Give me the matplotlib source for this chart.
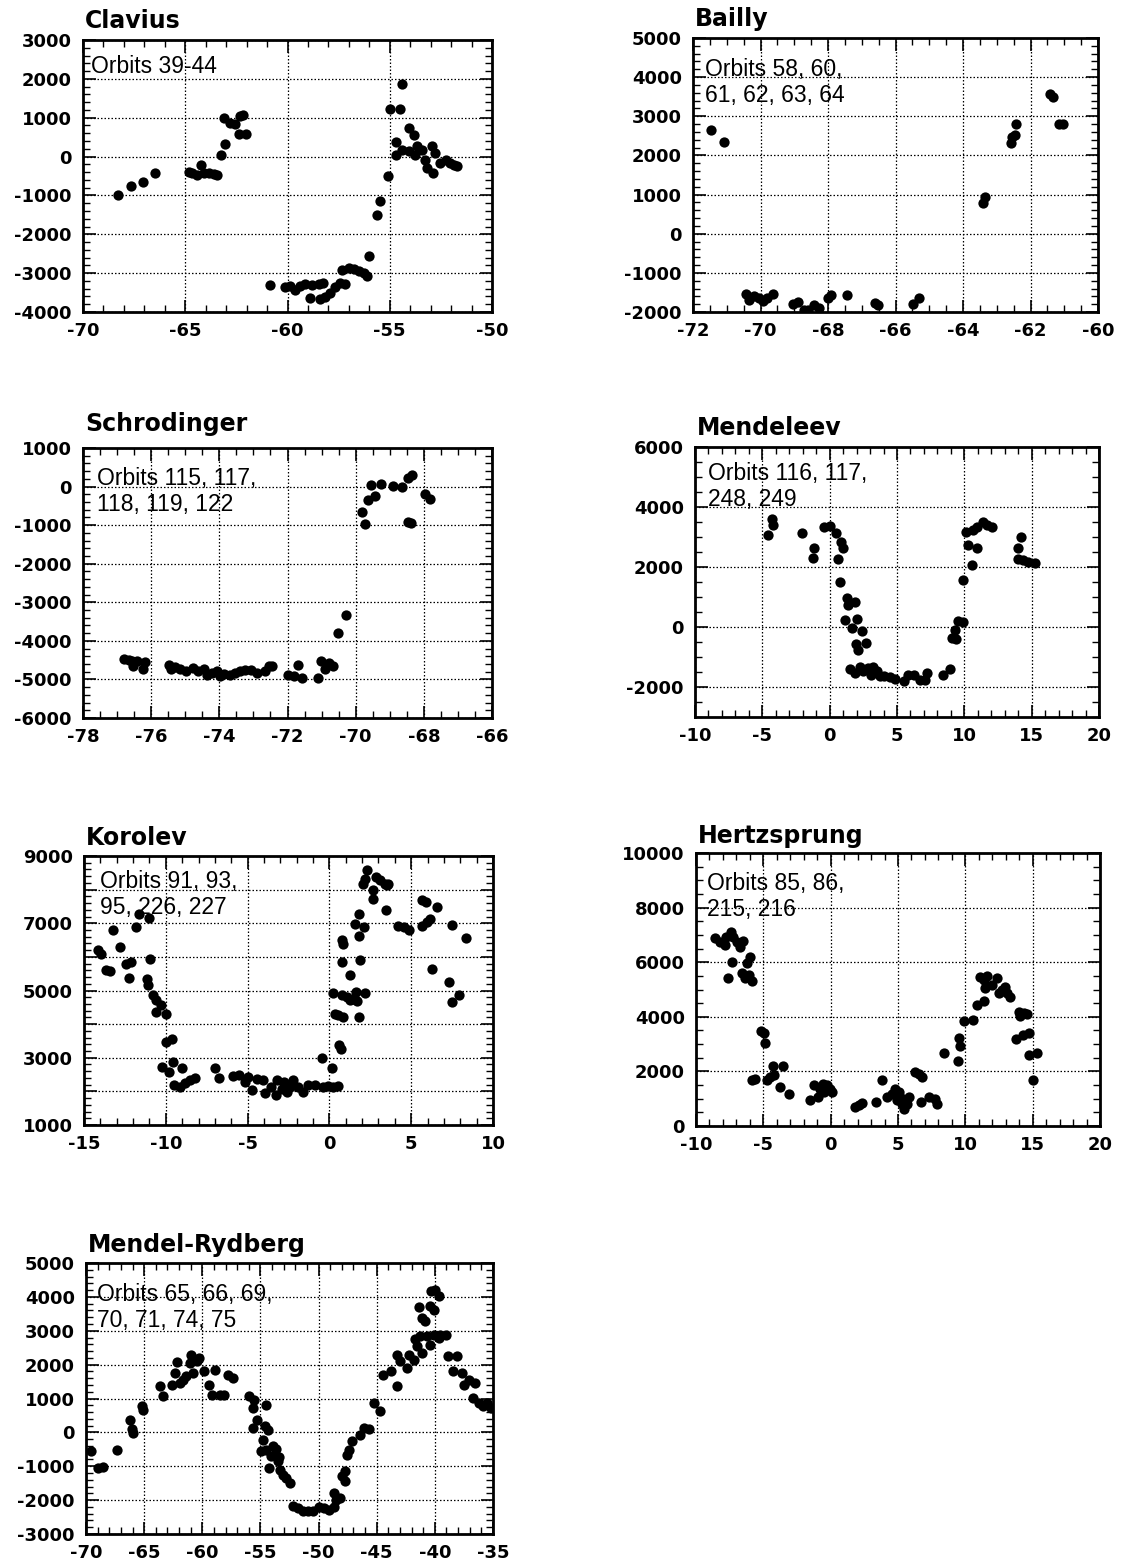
import matplotlib
matplotlib.use("Agg")
import matplotlib.pyplot as plt
from matplotlib.ticker import MultipleLocator, FixedLocator, FuncFormatter
import numpy as np

plt.rcParams['axes.unicode_minus'] = False

# ---------------- data ----------------
titles = ["Clavius", "Bailly", "Schrodinger", "Mendeleev", "Korolev", "Hertzsprung", "Mendel-Rydberg"]
orbit_labels = ["Orbits 39-44", "Orbits 58, 60,\n61, 62, 63, 64", "Orbits 115, 117,\n118, 119, 122",
                "Orbits 116, 117,\n248, 249", "Orbits 91, 93,\n95, 226, 227", "Orbits 85, 86,\n215, 216",
                "Orbits 65, 66, 69,\n70, 71, 74, 75"]

clavius_x = [-68.3, -67.64, -67.07, -66.5, -64.83, -64.67, -64.43, -64.24, -64.07, -63.86, -63.61, -63.45,
             -63.24, -63.04, -63.09, -62.8, -62.55, -62.3, -62.18, -62.39, -62.03,
             -60.84, -60.11, -59.86, -59.62, -59.37, -59.13, -58.8, -58.48, -58.26, -58.88, -58.43, -58.15,
             -57.9, -57.66, -57.42, -57.17, -57.33, -57.0, -56.76, -56.52, -56.28, -56.11, -56.03, -55.62,
             -55.49, -55.1, -55.0, -54.48, -54.4, -54.68, -54.68, -54.4, -54.07, -53.83, -54.07, -53.67,
             -53.75, -53.42, -53.26, -53.18, -52.89, -52.93, -52.77, -52.53, -52.23, -52.04, -51.87, -51.71]
clavius_y = [-1000, -750, -660, -420, -395, -420, -465, -225, -420, -420, -440, -480,
             50, 335, 1000, 870, 850, 1040, 1060, 590, 570,
             -3297, -3357, -3340, -3426, -3323, -3271, -3297, -3280, -3254, -3640, -3658, -3623,
             -3512, -3357, -3254, -3280, -2928, -2868, -2893, -2953, -2997, -3083, -2567, -1493,
             -1150, -505, 1213, 1213, 1857, 370, 52, 180, 740, 543, 137, 268,
             52, 180, -77, -290, -420, 268, 95, -160, -77, -160, -205, -248]

bailly_x = [-71.48, -71.09, -70.42, -70.35, -70.2, -70.04, -69.92, -69.8, -69.63, -69.04, -68.89, -68.72,
            -68.59, -68.42, -68.27, -68.0, -67.92, -67.43, -66.61, -66.51, -65.48, -65.31, -63.42, -63.35,
            -62.58, -62.55, -62.46, -62.42, -61.43, -61.33, -61.15, -61.03]
bailly_y = [2652, 2336, -1533, -1704, -1601, -1644, -1729, -1644, -1533, -1789, -1746, -1960,
            -1943, -1832, -1891, -1644, -1558, -1558, -1763, -1815, -1789, -1644, 773, 944,
            2327, 2481, 2524, 2797, 3574, 3488, 2806, 2806]

schrodinger_x = [-76.79, -76.66, -76.56, -76.53, -76.42, -76.25, -76.19, -75.49, -75.42, -75.29, -75.16,
                 -74.99, -74.77, -74.64, -74.46, -74.36, -74.22, -74.07, -73.97, -73.85, -73.68, -73.53,
                 -73.4, -73.24, -73.07, -72.9, -72.65, -72.55, -72.45, -71.99, -71.82, -71.69, -71.57,
                 -71.11, -71.03, -70.89, -70.79, -70.66, -70.52, -70.28, -69.81, -69.74, -69.64, -69.54,
                 -69.44, -69.25, -68.9, -68.64, -68.45, -68.35, -68.47, -68.38, -67.96, -67.81]
schrodinger_y = [-4471, -4488, -4531, -4644, -4531, -4730, -4557, -4618, -4730, -4687, -4730,
                 -4791, -4704, -4791, -4730, -4877, -4834, -4791, -4921, -4851, -4877, -4834,
                 -4791, -4748, -4765, -4834, -4791, -4661, -4644, -4877, -4921, -4618, -4964,
                 -4964, -4531, -4730, -4575, -4661, -3797, -3339, -668, -971, -340, 49,
                 -253, 66, 6, -20, 222, 309, -927, -945, -184, -322]

mendeleev_x = [-4.55, -4.26, -4.18, -2.03, -1.14, -1.21, -0.4, 0.02, 0.47, 0.59, 0.84, 1.01, 0.77, 1.26,
               1.39, 1.14, 1.88, 1.68, 2.05, 1.93, 2.13, 2.38, 2.67, 1.51, 1.88, 2.25, 2.5, 2.82, 3.04,
               3.24, 3.49, 3.74, 4.03, 4.48, 4.85, 5.52, 5.84, 6.29, 6.71, 7.08, 7.25, 8.44, 8.94, 9.06,
               9.31, 9.38, 9.55, 9.93, 9.93, 10.12, 10.3, 10.54, 10.67, 10.92, 10.97, 11.41, 11.66, 12.03,
               14.01, 14.18, 14.01, 14.38, 14.75, 15.25]
mendeleev_y = [3062, 3594, 3395, 3118, 2641, 2286, 3339, 3373, 3118, 2253, 2840, 2641, 1510, 956,
               734, 244, 823, -40, 277, -550, -780, -117, -540, -1406, -1517, -1317, -1483, -1373, -1595,
               -1317, -1483, -1627, -1627, -1650, -1739, -1816, -1595, -1595, -1761, -1761, -1539, -1595, -1406, -375,
               -90, -410, 215, 155, 1565, 3173, 2730, 2064, 3228, 2641, 3339, 3506, 3395, 3339,
               2619, 2984, 2253, 2231, 2175, 2120]

korolev_x = [-14.14, -13.94, -13.67, -13.43, -13.22, -12.78, -12.45, -12.1, -12.24, -11.8, -11.63, -11.02,
             -10.98, -11.14, -11.08, -10.78, -10.57, -10.27, -10.57, -9.96, -9.96, -9.65, -10.22, -9.8,
             -9.59, -9.49, -9.14, -8.98, -8.84, -8.53, -8.22, -7.0, -6.73, -5.88, -5.51, -5.16, -4.96,
             -4.76, -4.45, -4.08, -3.94, -3.59, -3.27, -3.22, -2.92, -2.78, -2.61, -2.41, -2.2, -1.9,
             -1.59, -1.29, -0.88, -0.47, -0.37, -0.06, 0.24, 0.55, 0.14, 0.24, 0.35, 0.55, 0.86, 0.61,
             0.69, 0.76, 0.76, 0.86, 0.76, 1.06, 1.27, 1.27, 1.47, 1.57, 1.63, 1.71, 1.78, 1.78, 1.84,
             1.78, 2.12, 2.18, 2.04, 2.18, 2.29, 2.65, 2.65, 2.86, 3.1, 3.41, 3.51, 3.61, 3.47, 4.22,
             4.53, 4.84, 5.65, 5.92, 5.65, 5.96, 6.16, 6.27, 6.57, 7.29, 7.49, 7.49, 7.9, 8.37]
korolev_y = [6198, 6099, 5624, 5584, 6812, 6297, 5782, 5851, 5376, 6891, 7267, 7168,
             5950, 5356, 5178, 4861, 4713, 4564, 4366, 4297, 3475, 3545, 2713, 2584,
             2881, 2188, 2139, 2683, 2238, 2337, 2386, 2683, 2386, 2465, 2485, 2287, 2436,
             2040, 2356, 2337, 1960, 2139, 1891, 2337, 2059, 2287, 1990, 2139, 2337, 2139,
             1990, 2188, 2188, 2980, 2139, 2158, 2139, 2158, 2683, 4911, 4297, 4267, 4218, 3376,
             3248, 5851, 6495, 6396, 4861, 4812, 4713, 5455, 4762, 6990, 4960, 4693, 6614, 7287, 5921,
             4198, 6891, 4931, 8178, 8327, 8574, 7980, 7733, 8376, 8277, 8178, 8129, 8178, 7406, 6921,
             6891, 6812, 7703, 7634, 6911, 7040, 7139, 5634, 7485, 5238, 6941, 4663, 4861, 6574]

hertzsprung_x = [-8.56, -8.19, -7.87, -7.75, -7.38, -7.28, -6.96, -6.76, -6.53, -7.62, -7.33, -6.58, -6.34,
                 -6.21, -5.97, -5.84, -6.09, -5.17, -4.98, -4.85, -5.84, -5.59, -4.73, -4.48, -4.18, -4.28,
                 -3.54, -3.79, -3.12, -1.51, -1.26, -0.94, -0.77, -0.57, -0.47, -0.27, -0.02, 0.1, 1.83,
                 2.08, 2.33, 3.39, 3.81, 4.18, 4.55, 4.8, 5.05, 4.93, 5.17, 5.3, 5.47, 5.67, 5.79, 6.29,
                 6.53, 6.78, 6.73, 7.28, 7.77, 7.9, 8.44, 9.43, 9.5, 9.63, 9.93, 10.57, 10.87, 11.36, 11.11,
                 11.36, 11.61, 11.49, 11.98, 12.35, 12.48, 12.72, 12.97, 13.09, 13.34, 13.96, 14.08, 14.33,
                 14.58, 13.79, 14.28, 14.7, 14.7, 15.02, 15.32]
hertzsprung_y = [6879, 6757, 6634, 6940, 7124, 6940, 6757, 6548, 6793, 5410, 6022, 5594, 5410,
                 5961, 6206, 5312, 5532, 3488, 3390, 3023, 1701, 1738, 1701, 1799, 1860, 2191,
                 2191, 1432, 1187, 942, 1493, 1065, 1371, 1555, 1248, 1493, 1371, 1248, 698,
                 759, 845, 881, 1677, 1065, 1187, 1371, 1248, 942, 1065, 820, 637, 820, 1065, 1983,
                 1922, 1799, 881, 1065, 1004, 820, 2656, 2387, 3207, 2925, 3855, 3880, 4431, 4590, 5471,
                 5349, 5496, 5043, 5165, 5410, 4859, 4982, 5104, 4859, 4737, 4186, 4027, 4125,
                 4100, 3170, 3329, 3390, 2595, 1701, 2656]

mendel_rydberg_x = [-69.6, -69.0, -68.57, -67.3, -66.21, -66.07, -65.93, -65.15, -65.12, -63.63, -63.34,
                    -62.63, -62.34, -62.14, -61.91, -61.62, -61.39, -61.05, -60.99, -60.76, -60.47, -60.25,
                    -59.84, -59.41, -59.13, -58.9, -58.47, -58.12, -57.75, -57.32, -55.94, -55.6, -55.54,
                    -54.54, -55.6, -55.26, -54.97, -54.74, -54.6, -54.31, -54.51, -54.11, -54.22, -53.94,
                    -53.65, -53.36, -53.53, -53.3, -53.07, -52.79, -52.44, -52.16, -51.73, -51.3, -50.87,
                    -50.44, -50.0, -49.57, -49.14, -48.71, -48.71, -48.49, -48.14, -48.0, -47.71, -47.77,
                    -47.57, -47.42, -47.14, -46.42, -46.13, -45.7, -45.21, -44.7, -44.5, -43.78, -43.26,
                    -43.26, -42.98, -42.4, -42.26, -41.83, -41.54, -41.69, -41.31, -41.11, -41.4, -41.11,
                    -40.82, -40.68, -40.39, -40.45, -40.1, -40.3, -39.97, -39.68, -40.1, -39.68, -39.54,
                    -39.03, -38.83, -38.1, -38.45, -37.67, -37.53, -37.1, -36.52, -36.72, -36.24, -35.86,
                    -35.52, -35.17]
mendel_rydberg_y = [-561, -1053, -1024, -512, 374, 98, -20, 768, 669, 1358, 1063,
                    1407, 1752, 2067, 1457, 1555, 1654, 2047, 2293, 1752, 2096, 2195,
                    1801, 1388, 1112, 1850, 1112, 1112, 1703, 1604, 1063, 719, 965,
                    797, 128, 374, -561, -217, 177, 79, -512, -709, -1053, -413,
                    -492, -728, -856, -1102, -1250, -1348, -1496, -2185, -2234, -2333, -2313,
                    -2333, -2205, -2234, -2303, -2205, -1791, -1988, -1939, -1299, -1152, -1447,
                    -659, -512, -266, -69, 128, 98, 866, 620, 1703, 1801, 1358,
                    2293, 2096, 1900, 2293, 2146, 2559, 2766, 2835, 2342, 3701, 3376,
                    3278, 2835, 2589, 3740, 3622, 4163, 4193, 4016, 2884, 2785, 2884,
                    2884, 2264, 2264, 1801, 1752, 1407, 1555, 1457, 1014, 866, 768,
                    866, 719]

xs = [clavius_x, bailly_x, schrodinger_x, mendeleev_x, korolev_x, hertzsprung_x, mendel_rydberg_x]
ys = [clavius_y, bailly_y, schrodinger_y, mendeleev_y, korolev_y, hertzsprung_y, mendel_rydberg_y]

# y tick positions (gridlines) and which of them carry labels
ytick_values = [list(range(-4000, 3001, 1000)), list(range(-2000, 5001, 1000)), list(range(-6000, 1001, 1000)),
                list(range(-2000, 6001, 2000)), list(range(1000, 9001, 1000)), list(range(0, 10001, 2000)),
                list(range(-3000, 5001, 1000))]
ytick_labeled = [list(range(-4000, 3001, 1000)), list(range(-2000, 5001, 1000)), list(range(-6000, 1001, 1000)),
                 list(range(-2000, 6001, 2000)), list(range(1000, 9001, 2000)), list(range(0, 10001, 2000)),
                 list(range(-3000, 5001, 1000))]

# ---------------- layout / axes config ----------------
W, H = 1129, 1564
boxes = [(83, 40, 492, 312), (693, 38, 1098, 312), (83, 448, 492, 718), (695, 447, 1099, 717),
         (84, 856, 493, 1125), (696, 853, 1100, 1126), (86, 1263, 493, 1534)]
xlims = [(-70, -50), (-72, -60), (-78, -66), (-10, 20), (-15, 10), (-10, 20), (-70, -35)]
ylims = [(-4000, 3000), (-2000, 5000), (-6000, 1000), (-3000, 6000), (1000, 9000), (0, 10000), (-3000, 5000)]
xmaj = [5, 2, 2, 5, 5, 5, 5]
xmin = [1, 0.5, 0.5, 1, 1, 1, 1]
ymin = [200, 200, 200, 500, 200, 500, 200]
title_off = [12, 12, 17, 12, 11, 10, 11]
text_off = [(8, 15), (12, 20), (14, 19), (13, 15), (16, 14), (11, 19), (11, 20)]

fig = plt.figure(figsize=(W / 100, H / 100), dpi=100)

for i in range(7):
    l, t, r, b = boxes[i]
    ax = fig.add_axes([l / W, 1 - b / H, (r - l) / W, (b - t) / H])
    ax.plot(xs[i], ys[i], 'o', color='black', markersize=7.4, markeredgewidth=0, zorder=3)
    ax.set_xlim(*xlims[i])
    ax.set_ylim(*ylims[i])
    ax.xaxis.set_major_locator(MultipleLocator(xmaj[i]))
    ax.xaxis.set_minor_locator(MultipleLocator(xmin[i]))
    ax.yaxis.set_major_locator(FixedLocator(ytick_values[i]))
    ax.yaxis.set_minor_locator(MultipleLocator(ymin[i]))
    labeled = set(ytick_labeled[i])
    ax.yaxis.set_major_formatter(FuncFormatter(
        lambda v, p, lab=labeled: f"{int(round(v))}" if int(round(v)) in lab else ""))
    ax.xaxis.set_major_formatter(FuncFormatter(lambda v, p: f"{int(round(v))}"))
    ax.grid(True, which='major', color='black', linestyle=(0, (1.2, 1.6)), linewidth=0.9)
    ax.tick_params(which='both', direction='in', top=True, right=True, color='black')
    ax.tick_params(which='major', length=9, width=1.2, labelsize=13)
    ax.tick_params(which='minor', length=5, width=1.0)
    ax.tick_params(axis='x', which='major', pad=7)
    ax.tick_params(axis='y', which='major', pad=8)
    for lab in ax.get_xticklabels() + ax.get_yticklabels():
        lab.set_fontfamily('DejaVu Sans')
        lab.set_fontweight('bold')
    for sp in ax.spines.values():
        sp.set_linewidth(2.0)
        sp.set_zorder(5)
    ax.annotate(titles[i], xy=(0, 1), xycoords='axes fraction', xytext=(2, title_off[i]),
                textcoords='offset pixels', ha='left', va='baseline',
                fontfamily='DejaVu Sans', fontweight='bold', fontsize=17)
    dx, dy = text_off[i]
    ax.annotate(orbit_labels[i], xy=(0, 1), xycoords='axes fraction', xytext=(dx, -dy),
                textcoords='offset pixels', ha='left', va='top',
                fontfamily='Liberation Sans', fontsize=16.5, linespacing=1.15, zorder=6)

fig.savefig("out.png", dpi=100)
